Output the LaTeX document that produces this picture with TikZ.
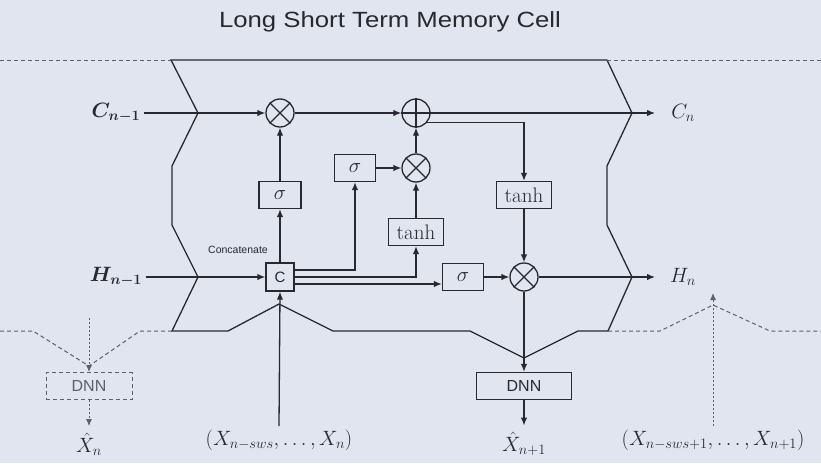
\documentclass[tikz,border=0pt]{standalone}
\usepackage{bm}
\usepackage{fontspec}
\setsansfont{Liberation Sans}
\usetikzlibrary{arrows.meta,calc}
\definecolor{bg}{RGB}{224,229,240}
\definecolor{ink}{RGB}{40,40,46}
\definecolor{dink}{RGB}{95,95,105}
\newcommand\labfont{\fontsize{21}{25}\selectfont}
\begin{document}
\begin{tikzpicture}[x=1pt,y=-1pt,
  line/.style={draw=ink, line width=1.3pt},
  arr/.style={line, -{Latex[length=8pt,width=6.5pt]}},
  dline/.style={draw=dink, line width=1pt, dash pattern=on 4pt off 3pt},
  dotarr/.style={draw=dink, line width=1pt, dash pattern=on 2pt off 2pt, -{Latex[length=7pt,width=6pt]}},
  op/.style={circle, draw=ink, line width=1.3pt, minimum size=28pt, inner sep=0pt},
  box/.style={draw=ink, line width=1.3pt, minimum height=27pt, inner sep=0pt, text=ink, font=\labfont},
  dbox/.style={draw=dink, line width=1pt, dash pattern=on 4pt off 3pt, minimum height=27pt, inner sep=0pt, text=dink, font=\sffamily\fontsize{16}{19}\selectfont},
  lab/.style={text=ink, font=\labfont}]
\fill[bg] (0,0) rectangle (821,463);
\useasboundingbox (0,0) rectangle (821,463);

\node[text=ink, font=\sffamily\fontsize{22}{26}\selectfont] (title) at (390,22) {\scalebox{1.17}[1]{Long Short Term Memory Cell}};

% outline of the cell
\draw[line, line join=miter] (171,60) -- (607,60) -- (632,113) -- (607,166) -- (607,225) -- (632,277)
  -- (608,331) -- (578,331) -- (524,358) -- (470,331) -- (333,331) -- (279,304) -- (228,331)
  -- (172,331) -- (198,277) -- (172,225) -- (172,166) -- (198,113) -- cycle;

% dashed continuations
\draw[dline] (0,60) -- (171,60);
\draw[dline] (607,60) -- (821,60);
\draw[dline] (0,331) -- (33,331) -- (89,366);
\draw[dline] (172,331) -- (140,331) -- (89,366);
\draw[dline] (608,331) -- (660,331) -- (713,305) -- (770,331) -- (821,331);

% operators
\node[op] (m1) at (280,113) {};
\node[op] (plus) at (416,113) {};
\node[op] (m2) at (416,168) {};
\node[op] (m3) at (524,277) {};
\foreach \n in {m1,m2,m3}{
  \draw[line] (\n.north east) -- (\n.south west) (\n.north west) -- (\n.south east);
}
\draw[line] (plus.north) -- (plus.south) (plus.west) -- (plus.east);

% boxes
\node[box, minimum width=42pt] (s1) at (280,195) {$\sigma$};
\node[box, minimum width=41pt] (s2) at (355,168) {$\sigma$};
\node[box, minimum width=55pt] (tM) at (416,232) {$\tanh$};
\node[box, minimum width=41pt] (s3) at (463,277) {$\sigma$};
\node[box, minimum width=55pt] (tR) at (524,195) {$\tanh$};
\node[box, minimum width=28pt, minimum height=28pt, font=\sffamily\fontsize{15}{18}\selectfont] (cc) at (280,277) {C};
\node[text=ink, font=\sffamily\fontsize{10.5}{12}\selectfont] (concat) at (238,250) {Concatenate};
\node[box, minimum width=95pt, font=\sffamily\fontsize{16}{19}\selectfont] (dnnR) at (524,386) {DNN};
\node[dbox, minimum width=86pt] (dnnL) at (89,386) {DNN};

% labels
\node[lab] (cin) at (116,113) {$\bm{C_{n-1}}$};
\node[lab] (hin) at (116,277) {$\bm{H_{n-1}}$};
\node[lab] (cout) at (683,113) {$C_n$};
\node[lab] (hout) at (683,277) {$H_n$};
\node[lab] (xin) at (279,440) {$(X_{n-sws},\ldots,X_n)$};
\node[lab] (xin2) at (713,440) {$(X_{n-sws+1},\ldots,X_{n+1})$};
\node[lab] (xh) at (89,444) {$\hat X_n$};
\node[lab] (xhR) at (524,444) {$\hat X_{n+1}$};
\coordinate (cend) at (655,113);
\coordinate (hend) at (655,277);
\coordinate (xup) at (713,293);
\coordinate (lft) at (89,318);

% connectors
\draw[arr] (cin.east) -- (m1.west);
\draw[arr] (m1) -- (plus);
\draw[arr] (plus) -- (cend);
\draw[arr] (plus.-40) -| (tR.north);
\draw[arr] (tR) -- (m3);
\draw[arr] (s3) -- (m3);
\draw[arr] (m3) -- (hend);
\draw[arr] (hin.east) -- (cc.west);
\draw[arr] (cc) -- (s1);
\draw[arr] (s1) -- (m1);
\draw[arr] ([yshift=7pt]cc.east) -| (s2.south);
\draw[arr] (cc.east) -| (tM.south);
\draw[arr] ([yshift=-7pt]cc.east) -- ([yshift=-7pt]s3.west);
\draw[arr] (s2) -- (m2);
\draw[arr] (tM) -- (m2);
\draw[arr] (m2) -- (plus);
\draw[arr] (xin.north) -- (cc.south);
\draw[arr] (m3) -- (dnnR);
\draw[arr, shorten >=3pt] (dnnR) -- (xhR.north);
\draw[dotarr] (lft) -- (dnnL.north);
\draw[dotarr, shorten >=3pt] (dnnL.south) -- (xh.north);
\draw[dotarr] (xin2.north) -- (xup);
\end{tikzpicture}
\end{document}
